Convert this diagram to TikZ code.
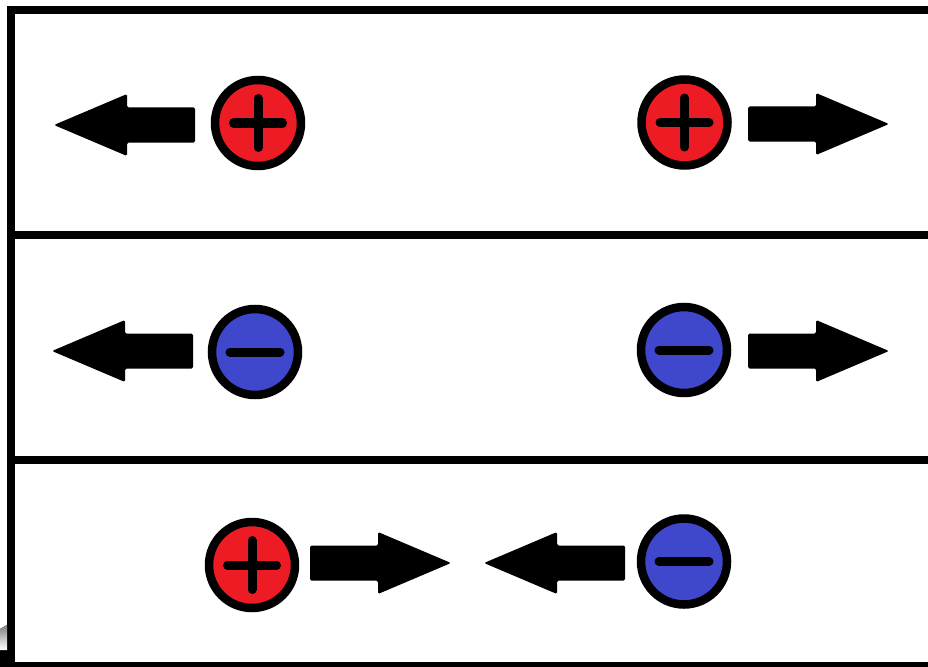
\documentclass[tikz,border=0pt]{standalone}
\usetikzlibrary{calc}
\definecolor{pos}{HTML}{ED1C24}
\definecolor{neg}{HTML}{3F48CC}
\definecolor{shade}{HTML}{D5E6EE}
\tikzset{
  frameline/.style={line width=8pt, black},
  charge/.style={circle, draw=black, line width=8.5pt, minimum size=86pt, inner sep=0pt},
  poscharge/.style={charge, fill=pos},
  negcharge/.style={charge, fill=neg},
  signbar/.style={line width=9pt, line cap=round, black},
  barrow/.pic={\fill[black, rounded corners=1.5pt] (0,-17.5) -- (68,-17.5) -- (68,-31) -- (141,0) -- (68,31) -- (68,17.5) -- (0,17.5) -- cycle;}
}
\newcommand{\plussign}[1]{%
  \draw[signbar] ($(#1)+(-24.5,0)$) -- ($(#1)+(24.5,0)$);
  \draw[signbar] ($(#1)+(0,-24.5)$) -- ($(#1)+(0,24.5)$);}
\newcommand{\minussign}[1]{%
  \draw[signbar] ($(#1)+(-25,0)$) -- ($(#1)+(25,0)$);}
\begin{document}
\begin{tikzpicture}[x=1pt,y=-1pt]
\useasboundingbox (0,0) rectangle (928,666);
\fill[white] (0,0) rectangle (928,666);
% frame
\draw[frameline] (11,666) -- (11,10) -- (928,10);
\draw[frameline] (11,235) -- (928,235);
\draw[frameline] (11,460) -- (928,460);
\draw[frameline] (0,666) -- (928,666);
\fill[black] (0,650) rectangle (15,666);
\fill[shade] (0,629) -- (7,625) -- (7,650) -- (0,650) -- cycle;
% row 1
\node[poscharge] (a1) at (258,123) {};
\plussign{a1}
\node[poscharge] (a2) at (684.5,122.5) {};
\plussign{a2}
\pic[xscale=-1] at (195,125) {barrow};
\pic at (748,124) {barrow};
% row 2
\node[negcharge] (b1) at (255,352) {};
\minussign{b1}
\node[negcharge] (b2) at (684,350) {};
\minussign{b2}
\pic[xscale=-1] at (193,351) {barrow};
\pic at (748,351) {barrow};
% row 3
\node[poscharge] (c1) at (252,565) {};
\plussign{c1}
\node[negcharge] (c2) at (684,561.5) {};
\minussign{c2}
\pic at (310,563) {barrow};
\pic[xscale=-1] at (625,563) {barrow};
\end{tikzpicture}
\end{document}
